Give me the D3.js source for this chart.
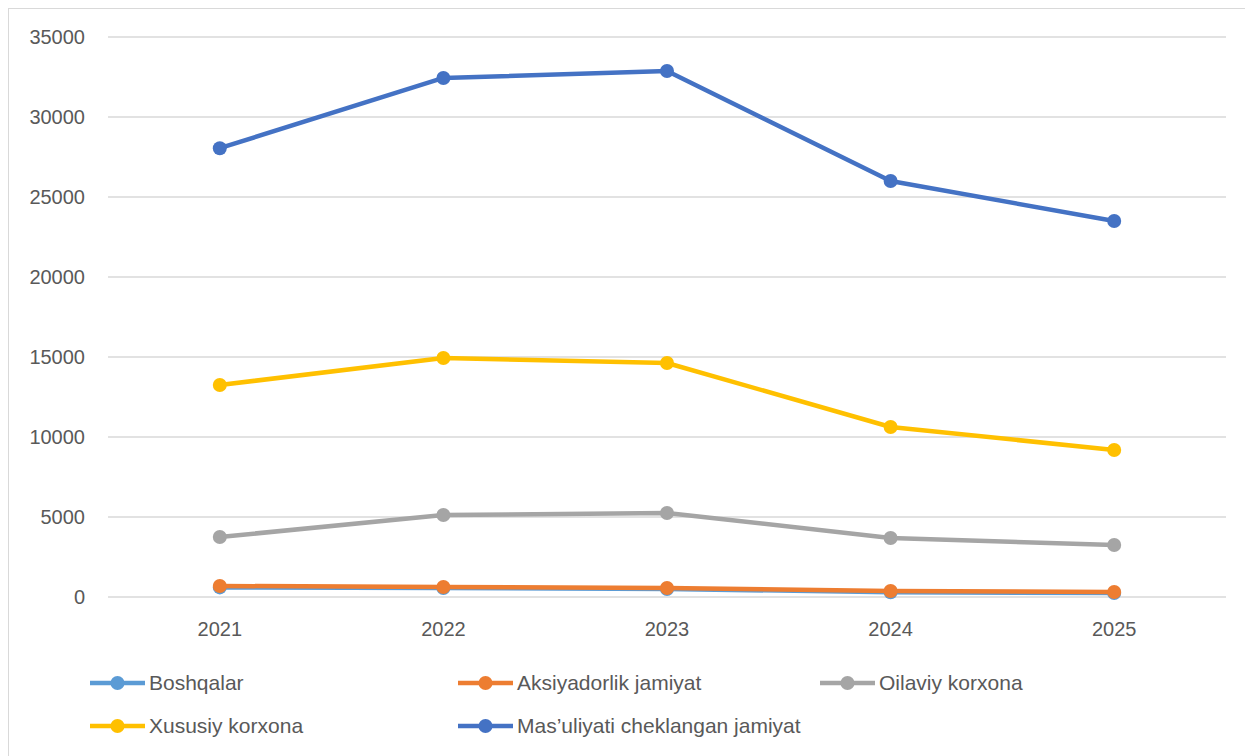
<!DOCTYPE html>
<html>
<head>
<meta charset="utf-8">
<script src="https://cdn.jsdelivr.net/npm/d3@7"></script>
<style>
  body { margin: 0; background: #fff; }
  text { font-family: "Liberation Sans", Arial, sans-serif; fill: #595959; }
</style>
</head>
<body>
<div id="chart"></div>
<script>
var years = ["2021", "2022", "2023", "2024", "2025"];
var seriesNames = ["Boshqalar", "Aksiyadorlik jamiyat", "Oilaviy korxona", "Xususiy korxona", "Mas\u2019uliyati cheklangan jamiyat"];
var boshqalar = [600, 560, 500, 300, 250];
var aksiyadorlik = [690, 625, 560, 375, 310];
var oilaviy = [3750, 5125, 5250, 3690, 3250];
var xususiy = [13250, 14940, 14625, 10625, 9190];
var masuliyati = [28050, 32440, 32875, 26000, 23500];
var yTicks = [0, 5000, 10000, 15000, 20000, 25000, 30000, 35000];
var colors = ["#5b9bd5", "#ed7d31", "#a5a5a5", "#ffc000", "#4472c4"];

var allSeries = [boshqalar, aksiyadorlik, oilaviy, xususiy, masuliyati];

var svgWidth = 1245, svgHeight = 756;
var margin = { top: 37, right: 19, bottom: 159, left: 108 };
var width = svgWidth - margin.left - margin.right;
var height = svgHeight - margin.top - margin.bottom;

var svg = d3.select("#chart").append("svg")
  .attr("width", svgWidth)
  .attr("height", svgHeight);

// outer chart border
svg.append("rect")
  .attr("x", 8.5).attr("y", 8.5)
  .attr("width", svgWidth - 8).attr("height", svgHeight - 8)
  .attr("fill", "none").attr("stroke", "#d9d9d9").attr("stroke-width", 1);

var chartGroup = svg.append("g")
  .attr("transform", `translate(${margin.left}, ${margin.top})`);

var x = d3.scaleBand().domain(years).range([0, width]);
var y = d3.scaleLinear().domain([0, 35000]).range([height, 0]);

// gridlines
chartGroup.append("g")
  .selectAll("line")
  .data(yTicks)
  .enter()
  .append("line")
  .attr("x1", 0).attr("x2", width)
  .attr("y1", d => y(d)).attr("y2", d => y(d))
  .attr("stroke", "#d9d9d9").attr("stroke-width", 1.5);

// y axis labels
var leftAxis = d3.axisLeft(y).tickValues(yTicks).tickFormat(d3.format("d")).tickSize(0).tickPadding(23);
var yAxisG = chartGroup.append("g").call(leftAxis);
yAxisG.select(".domain").remove();
yAxisG.selectAll("text").style("font-size", "20px").attr("fill", "#595959");

// x axis labels
var bottomAxis = d3.axisBottom(x).tickSize(0).tickPadding(25);
var xAxisG = chartGroup.append("g")
  .attr("transform", `translate(0, ${height})`)
  .call(bottomAxis);
xAxisG.select(".domain").remove();
xAxisG.selectAll("text").style("font-size", "20px").attr("fill", "#595959");

var line = d3.line()
  .x((d, i) => x(years[i]) + x.bandwidth() / 2)
  .y(d => y(d));

allSeries.forEach(function(values, s) {
  var g = chartGroup.append("g");
  g.append("path")
    .datum(values)
    .attr("d", line)
    .attr("fill", "none")
    .attr("stroke", colors[s])
    .attr("stroke-width", 4.5)
    .attr("stroke-linejoin", "round")
    .attr("stroke-linecap", "round");
  g.selectAll("circle")
    .data(values)
    .enter()
    .append("circle")
    .attr("cx", (d, i) => x(years[i]) + x.bandwidth() / 2)
    .attr("cy", d => y(d))
    .attr("r", 7)
    .attr("fill", colors[s]);
});

// legend
var legendPos = [[90, 683], [458, 683], [820, 683], [90, 726], [458, 726]];
seriesNames.forEach(function(name, s) {
  var lg = svg.append("g")
    .attr("transform", `translate(${legendPos[s][0]}, ${legendPos[s][1]})`);
  lg.append("line")
    .attr("x1", 0).attr("x2", 55)
    .attr("y1", 0).attr("y2", 0)
    .attr("stroke", colors[s]).attr("stroke-width", 4.5);
  lg.append("circle")
    .attr("cx", 27.5).attr("cy", 0).attr("r", 7)
    .attr("fill", colors[s]);
  lg.append("text")
    .attr("x", 59).attr("y", 0)
    .attr("dy", "0.35em")
    .style("font-size", "21px")
    .text(name);
});
</script>
</body>
</html>
